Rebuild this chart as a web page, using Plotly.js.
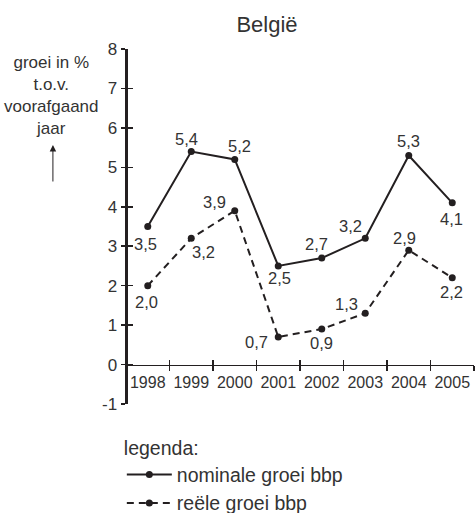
<!DOCTYPE html>
<html>
<head>
<meta charset="utf-8">
<script src="https://cdn.plot.ly/plotly-3.0.1.min.js"></script>
<style>html,body{margin:0;padding:0;background:#fff;}#chart{width:475px;height:513px;}</style>
</head>
<body>
<div id="chart"></div>
<script>
// ---- data ----
const years = ['1998', '1999', '2000', '2001', '2002', '2003', '2004', '2005'];
const nominal = [3.5, 5.4, 5.2, 2.5, 2.7, 3.2, 5.3, 4.1];
const real = [2.0, 3.2, 3.9, 0.7, 0.9, 1.3, 2.9, 2.2];
const seriesNames = ['nominale groei bbp', 'reële groei bbp'];
const yTickVals = [-1, 0, 1, 2, 3, 4, 5, 6, 7, 8];
const yTickText = ['-1', '0', '1', '2', '3', '4', '5', '6', '7', '8'];

// ---- label offsets (style, px) ----
const nomDx = [-2, -5, 5, 1, -5, -15, 0, -1];
const nomDy = [-17, 13, 13, -12, 14, 12, 15, -16];
const realDx = [-1, 12, -20, -22, 0, -19, -4, -1];
const realDy = [-16, -14, 9, -5, -14, 9, 12, -14];

const INK = '#231f20';
const TXT = '#333333';
const font = '"Liberation Sans", Arial, sans-serif';

const fmt = v => v.toFixed(1).replace('.', ',');

const traces = [
  {
    x: years, y: nominal, name: seriesNames[0], type: 'scatter', mode: 'lines+markers',
    line: {color: INK, width: 2}, marker: {color: INK, size: 7}, hoverinfo: 'skip'
  },
  {
    x: years, y: real, name: seriesNames[1], type: 'scatter', mode: 'lines+markers',
    line: {color: INK, width: 2, dash: '7px,5px'}, marker: {color: INK, size: 7}, hoverinfo: 'skip'
  },
  {
    x: years, y: years.map(() => null), xaxis: 'x2', yaxis: 'y2', type: 'scatter',
    mode: 'markers', showlegend: false, hoverinfo: 'skip'
  }
];

const annotations = [];
nominal.forEach((v, i) => annotations.push({
  x: years.indexOf(years[i]), y: v, xref: 'x', yref: 'y', text: fmt(v), showarrow: false,
  xshift: nomDx[i], yshift: nomDy[i], font: {family: font, size: 16.5, color: TXT}
}));
real.forEach((v, i) => annotations.push({
  x: years.indexOf(years[i]), y: v, xref: 'x', yref: 'y', text: fmt(v), showarrow: false,
  xshift: realDx[i], yshift: realDy[i], font: {family: font, size: 16.5, color: TXT}
}));
// y-axis title block
annotations.push({
  xref: 'paper', yref: 'paper', x: -0.213, y: 0.868, xanchor: 'center', yanchor: 'middle',
  text: 'groei in %<br>t.o.v.<br>voorafgaand<br>jaar', showarrow: false, align: 'center',
  font: {family: font, size: 17, color: TXT}
});
// arrow under it
annotations.push({
  xref: 'paper', yref: 'paper', x: -0.21, y: 0.7296, text: '', showarrow: true,
  ax: 0, ay: 38, arrowhead: 2, arrowsize: 1.3, arrowwidth: 1, arrowcolor: INK
});

const axisCommon = {
  showgrid: false, zeroline: false, showline: true, linecolor: INK, linewidth: 1.5,
  tickcolor: INK, tickwidth: 1.5, fixedrange: true
};

const layout = {
  width: 475, height: 513,
  margin: {l: 126, r: 1, t: 49, b: 109, pad: 0, autoexpand: false},
  paper_bgcolor: '#ffffff', plot_bgcolor: '#ffffff',
  title: {
    text: 'België', x: 267 / 475, xanchor: 'center', y: 1 - 24 / 513, yanchor: 'middle',
    font: {family: font, size: 22, color: TXT}
  },
  xaxis: Object.assign({}, axisCommon, {
    type: 'category', categoryorder: 'array', categoryarray: years, range: [-0.5, 7.5],
    anchor: 'free', position: 1 / 9, tickson: 'boundaries', ticks: 'outside', ticklen: 5,
    ticklabelstandoff: 3, tickangle: 0, tickfont: {family: font, size: 16, color: TXT}
  }),
  xaxis2: Object.assign({}, axisCommon, {
    type: 'category', categoryorder: 'array', categoryarray: years, range: [-0.5, 7.5],
    overlaying: 'x', anchor: 'free', position: 1 / 9, tickson: 'boundaries', ticks: 'inside', ticklen: 5,
    showticklabels: false
  }),
  yaxis: Object.assign({}, axisCommon, {
    range: [-1, 8], tickvals: yTickVals, ticktext: yTickText, ticks: 'outside', ticklen: 4,
    tickfont: {family: font, size: 17, color: TXT}
  }),
  yaxis2: Object.assign({}, axisCommon, {
    range: [-1, 8], tickvals: yTickVals, overlaying: 'y', anchor: 'free', position: 0, side: 'left',
    ticks: 'inside', ticklen: 5, showticklabels: false
  }),
  showlegend: true,
  legend: {
    x: -0.012, xanchor: 'left', yref: 'container', y: 1 - 430 / 513, yanchor: 'top', orientation: 'v',
    title: {text: 'legenda:', side: 'top', font: {family: font, size: 19.5, color: TXT}},
    font: {family: font, size: 19.5, color: TXT}, bgcolor: 'rgba(0,0,0,0)',
    itemwidth: 45, tracegroupgap: 0
  },
  annotations: annotations
};

Plotly.newPlot('chart', traces, layout, {staticPlot: true, displayModeBar: false});
</script>
</body>
</html>
